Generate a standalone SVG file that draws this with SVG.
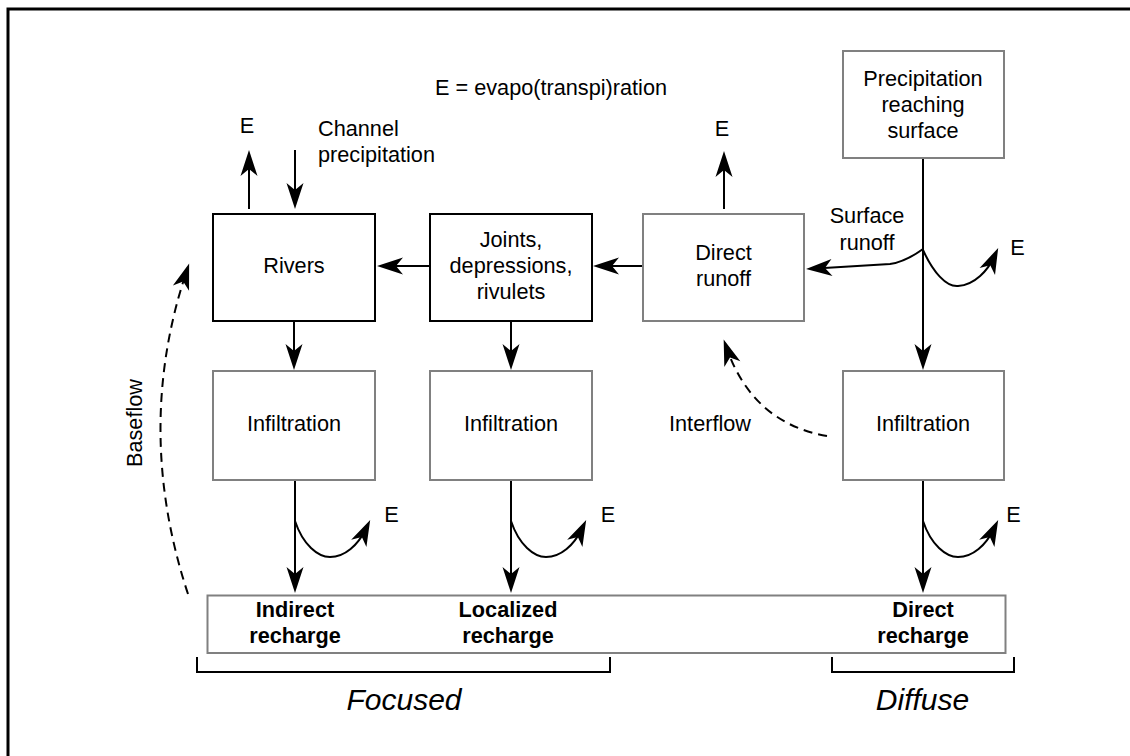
<svg xmlns="http://www.w3.org/2000/svg" width="1130" height="756" viewBox="0 0 1130 756">
<style>
text{font-family:"Liberation Sans",Arial,sans-serif;font-size:21.7px;fill:#000}
.c{text-anchor:middle}
.b{font-weight:bold}
.it{font-style:italic;font-size:30px}
.gb{fill:#fff;stroke:#808080;stroke-width:2}
.kb{fill:#fff;stroke:#000;stroke-width:2}
.ln{fill:none;stroke:#000;stroke-width:2}
.ar{marker-end:url(#ah)}
.ds{stroke-dasharray:9,6}
</style>
<defs>
<marker id="ah" viewBox="-18 -10 30 20" refX="0" refY="0" markerWidth="30" markerHeight="20" orient="auto" markerUnits="userSpaceOnUse">
<path d="M10,0 L-16,-8.5 L-9,0 L-16,8.5 Z" fill="#000"/>
</marker>
</defs>
<rect width="1130" height="756" fill="#fff"/>
<path d="M8,760 V9 H1135" fill="none" stroke="#000" stroke-width="3"/>

<g id="connectors">
<line class="ln ar" x1="249" y1="209" x2="249" y2="160"/>
<line class="ln ar" x1="295" y1="150" x2="295" y2="199"/>
<line class="ln ar" x1="430" y1="266" x2="387" y2="266"/>
<line class="ln ar" x1="643" y1="266" x2="603" y2="266"/>
<line class="ln ar" x1="724" y1="209" x2="724" y2="161"/>
<line class="ln ar" x1="923" y1="158" x2="923" y2="360"/>
<path class="ln ar" d="M923,249 Q905,262 890,264 L816,268.5"/>
<path class="ln ar" d="M923,250 C933,272 946,287 958,286 C975,285 988,270 994,257"/>
<line class="ln ar" x1="294" y1="322" x2="294" y2="360"/>
<line class="ln ar" x1="511" y1="322" x2="511" y2="360"/>
<line class="ln ar" x1="295" y1="480" x2="295" y2="583"/>
<line class="ln ar" x1="511" y1="480" x2="511" y2="583"/>
<line class="ln ar" x1="923" y1="480" x2="923" y2="583"/>
<path class="ln ar" d="M295,521 C303,545 318,557 330,557 C345,557 358,545 365.8,529"/>
<path class="ln ar" d="M511,521 C519,545 534,557 546,557 C561,557 574,545 581.8,529"/>
<path class="ln ar" d="M923,521 C931,545 946,557 958,557 C973,557 986,545 993.8,529"/>
<path class="ln ar ds" d="M188,594 Q134,430 186,273"/>
<path class="ln ar ds" d="M827,436 C780,428 745,400 727,349"/>
</g>

<g id="precip">
<rect class="gb" x="843" y="51" width="161" height="107"/>
<text class="c" x="923" y="86">Precipitation</text>
<text class="c" x="923" y="112">reaching</text>
<text class="c" x="923" y="138">surface</text>
</g>
<g id="rivers">
<rect class="kb" x="213" y="214" width="162" height="107"/>
<text class="c" x="294" y="273">Rivers</text>
</g>
<g id="joints">
<rect class="kb" x="430" y="214" width="162" height="107"/>
<text class="c" x="511" y="247">Joints,</text>
<text class="c" x="511" y="273">depressions,</text>
<text class="c" x="511" y="299">rivulets</text>
</g>
<g id="directrunoff">
<rect class="gb" x="643" y="214" width="161" height="107"/>
<text class="c" x="723.5" y="260">Direct</text>
<text class="c" x="723.5" y="286">runoff</text>
</g>
<g id="infil1">
<rect class="gb" x="213" y="371" width="162" height="109"/>
<text class="c" x="294" y="431">Infiltration</text>
</g>
<g id="infil2">
<rect class="gb" x="430" y="371" width="162" height="109"/>
<text class="c" x="511" y="431">Infiltration</text>
</g>
<g id="infil3">
<rect class="gb" x="843" y="371" width="161" height="109"/>
<text class="c" x="923" y="431">Infiltration</text>
</g>
<g id="recharge">
<rect class="gb" x="207.5" y="595.5" width="798" height="57.5"/>
<text class="c b" x="295" y="617">Indirect</text>
<text class="c b" x="295" y="643">recharge</text>
<text class="c b" x="508" y="617">Localized</text>
<text class="c b" x="508" y="643">recharge</text>
<text class="c b" x="923" y="617">Direct</text>
<text class="c b" x="923" y="643">recharge</text>
</g>

<g id="labels">
<text x="435" y="95">E = evapo(transpi)ration</text>
<text class="c" x="247" y="133">E</text>
<text x="318" y="136">Channel</text>
<text x="318" y="162">precipitation</text>
<text class="c" x="722" y="136">E</text>
<text class="c" x="867" y="223">Surface</text>
<text class="c" x="867" y="250">runoff</text>
<text class="c" x="1017.5" y="255">E</text>
<text style="text-anchor:end" x="751" y="431">Interflow</text>
<text class="c" x="391.5" y="521.5">E</text>
<text class="c" x="608" y="521.5">E</text>
<text class="c" x="1013.5" y="521.5">E</text>
<text class="c" transform="translate(142,423) rotate(-90)">Baseflow</text>
</g>

<g id="brackets">
<path class="ln" d="M197,657 V672 H610 V657"/>
<path class="ln" d="M832,657 V672 H1014 V657"/>
<text class="c it" x="404" y="710">Focused</text>
<text class="c it" x="922.5" y="710">Diffuse</text>
</g>
</svg>
